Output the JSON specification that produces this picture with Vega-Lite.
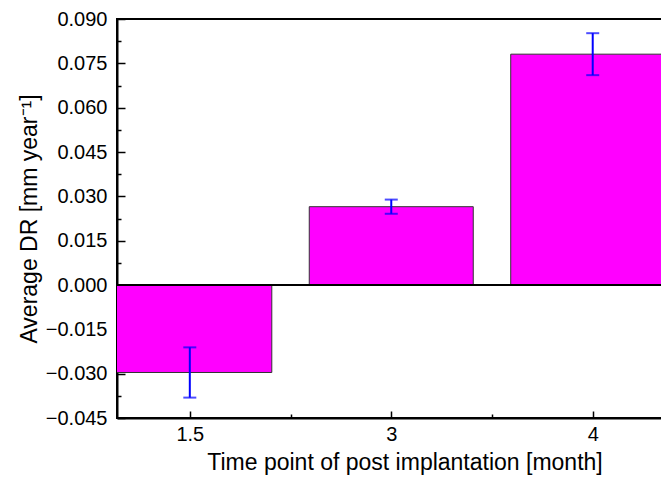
{
  "$schema": "https://vega.github.io/schema/vega-lite/v6.json",
  "width": 575,
  "height": 399,
  "autosize": {"type": "none"},
  "padding": {"left": 117, "top": 19, "right": 0, "bottom": 64},
  "background": "white",
  "config": {
    "view": {"stroke": "black", "strokeWidth": 2},
    "font": "Liberation Sans",
    "axis": {
      "labelFont": "Liberation Sans",
      "titleFont": "Liberation Sans",
      "labelFontSize": 20,
      "titleFontSize": 23,
      "titleFontWeight": "normal",
      "labelColor": "black",
      "titleColor": "black",
      "domainColor": "black",
      "tickColor": "black",
      "domainWidth": 2,
      "tickWidth": 1.5,
      "grid": false
    }
  },
  "data": {
    "values": [
      {"month": "1.5", "idx": 1, "dr": -0.0296, "err": 0.0085},
      {"month": "3", "idx": 2, "dr": 0.0265, "err": 0.0024},
      {"month": "4", "idx": 3, "dr": 0.0781, "err": 0.0071}
    ]
  },
  "resolve": {"axis": {"x": "independent", "y": "independent"}},
  "layer": [
    {
      "mark": {"type": "bar", "width": 164, "color": "#FF00FF", "stroke": "#333333", "strokeWidth": 1, "clip": true},
      "encoding": {
        "x": {
          "field": "idx", "type": "quantitative",
          "scale": {"domain": [0.6634, 3.468], "nice": false, "zero": false},
          "axis": {
            "orient": "bottom",
            "values": [1, 2, 3],
            "labelExpr": "datum.value == 1 ? '1.5' : datum.value == 2 ? '3' : '4'",
            "tickSize": -7,
            "labelPadding": 13,
            "title": "Time point of post implantation [month]",
            "titlePadding": 7
          }
        },
        "y": {
          "field": "dr", "type": "quantitative",
          "scale": {"domain": [-0.045, 0.09], "nice": false, "zero": false},
          "axis": {
            "orient": "left",
            "values": [-0.045, -0.03, -0.015, 0, 0.015, 0.03, 0.045, 0.06, 0.075, 0.09],
            "format": ".3f",
            "tickSize": -8,
            "labelPadding": 18,
            "title": "Average DR [mm year⁻¹]",
            "titlePadding": 4
          }
        }
      }
    },
    {
      "mark": {"type": "errorbar", "color": "#0000FF", "thickness": 2, "ticks": {"size": 13, "thickness": 2, "color": "#0000FF"}, "rule": {"strokeWidth": 2, "color": "#0000FF"}},
      "encoding": {
        "x": {
          "field": "idx", "type": "quantitative",
          "axis": {"orient": "bottom", "values": [1.5, 2.5], "labels": false, "tickSize": -4, "title": null, "domain": false}
        },
        "y": {
          "field": "dr", "type": "quantitative",
          "axis": {"orient": "left", "values": [-0.0375, -0.0225, -0.0075, 0.0075, 0.0225, 0.0375, 0.0525, 0.0675, 0.0825], "labels": false, "tickSize": -4, "title": null, "domain": false}
        },
        "yError": {"field": "err"}
      }
    },
    {
      "mark": {"type": "rule", "color": "black", "strokeWidth": 2},
      "encoding": {
        "y": {"datum": 0, "type": "quantitative", "axis": null}
      }
    }
  ]
}
